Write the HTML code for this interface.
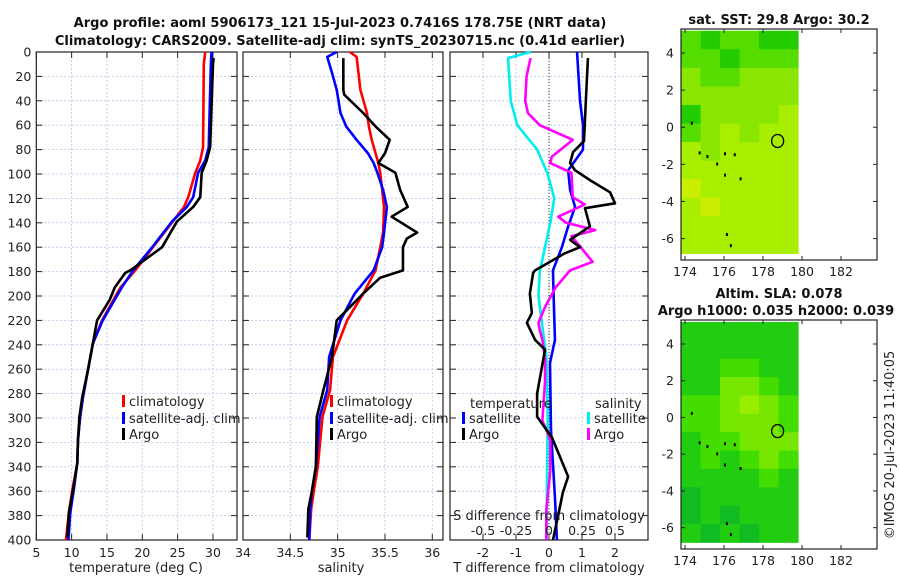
<!DOCTYPE html>
<html><head><meta charset="utf-8"><style>
body{margin:0;background:#fff;}
svg{display:block;font-family:"DejaVu Sans","Liberation Sans",sans-serif;}
</style></head><body>
<svg id="c" width="900" height="580" viewBox="0 0 900 580" xmlns="http://www.w3.org/2000/svg">
<text x="340" y="27" font-size="13" font-weight="bold" text-anchor="middle" fill="#111">Argo profile: aoml 5906173_121 15-Jul-2023 0.7416S 178.75E (NRT data)</text>
<text x="340" y="45" font-size="13" font-weight="bold" text-anchor="middle" fill="#111">Climatology: CARS2009. Satellite-adj clim: synTS_20230715.nc (0.41d earlier)</text>
<g id="g"></g>
</svg>
<script>
// depths (m) and values
const depths = [0,20,40,60,80,100,120,140,160,180,200,220,240,260,280,300,320,340,360,380,400];
const tTicks = [5,10,15,20,25,30];
const sTicks = [34,34.5,35,35.5,36];
const dTicks = [-2,-1,0,1,2];
const sdTicks = [-0.5,-0.25,0,0.25,0.5];

const tClimD = [0,10,78,89,99,119,127,139,160,179,193,220,239,261,283,299,318,337,359,378,400];
const tClimV = [28.9,28.7,28.6,28.2,27.5,26.5,25.9,24.3,21.5,19.0,16.9,14.3,13.0,12.3,11.6,11.2,10.9,10.8,10.1,9.6,9.2];
const tSatD = [0,10,78,89,99,119,127,139,160,179,193,220,239,261,283,299,318,337,359,378,400];
const tSatV = [29.8,29.7,29.4,28.9,27.9,27.2,26.3,24.2,21.4,18.7,17.1,14.4,13.0,12.3,11.6,11.2,10.9,10.8,10.3,9.8,9.55];
const tArgoD = [5,10,78,89,99,119,127,139,160,179,181,193,203,220,239,261,283,299,318,337,359,378,398];
const tArgoV = [30.1,30.0,29.6,29.1,28.4,28.2,27.2,24.9,22.8,18.3,17.6,16.1,15.4,13.6,13.0,12.3,11.5,11.1,10.9,10.8,10.2,9.6,9.4];

const sClimD = [0,4,17,31,50,61,72,91,99,113,127,148,160,179,198,220,250,277,299,340,359,375,400];
const sClimV = [35.13,35.2,35.22,35.24,35.31,35.33,35.36,35.43,35.45,35.47,35.49,35.48,35.45,35.40,35.27,35.10,34.95,34.92,34.84,34.79,34.75,34.72,34.70];
const sSatD = [0,4,17,31,50,61,72,83,91,99,113,127,148,160,179,198,220,250,277,299,340,359,375,400];
const sSatV = [34.99,34.89,34.94,34.99,35.03,35.09,35.2,35.32,35.38,35.42,35.48,35.52,35.49,35.47,35.38,35.18,35.03,34.91,34.89,34.81,34.77,34.73,34.71,34.70];
const sArgoD = [5,31,35,50,61,72,83,91,99,113,127,135,148,153,160,179,185,198,220,250,277,299,340,359,375,398];
const sArgoV = [35.06,35.06,35.07,35.27,35.40,35.55,35.50,35.43,35.61,35.66,35.74,35.57,35.84,35.73,35.69,35.69,35.45,35.27,34.99,34.94,34.85,34.78,34.77,34.73,34.69,34.68];

const dTArgoD = [5,38,73,82,91,97,105,115,124,128,143,154,160,165,179,181,198,214,222,236,244,280,299,316,348,361,373,400];
const dTArgoV = [1.18,1.12,1.06,0.73,0.64,0.79,1.24,1.85,2.0,1.09,1.24,0.64,0.94,0.48,-0.42,-0.48,-0.58,-0.52,-0.67,-0.42,-0.12,-0.36,-0.36,0.09,0.58,0.42,0.33,0.12];
const dTSatD = [0,40,60,80,97,113,127,143,160,179,209,236,255,310,365,400];
const dTSatV = [0.85,0.94,1.03,1.03,0.58,0.64,0.79,0.58,0.39,0.12,0.15,0.18,0.03,0.06,0.18,0.24];
const dSSatD = [0,5,40,60,80,100,120,140,160,180,200,250,300,400];
const dSSatV = [-0.14,-0.31,-0.29,-0.24,-0.09,-0.01,0.04,0.01,-0.03,-0.07,-0.08,-0.02,-0.01,-0.02];
const dSArgoD = [5,20,40,50,60,72,86,91,99,119,125,135,140,146,151,160,172,179,193,209,222,228,236,252,270,302,318,343,375,400];
const dSArgoV = [-0.14,-0.17,-0.18,-0.16,-0.07,0.18,0.02,0.01,0.17,0.18,0.27,0.07,0.13,0.35,0.17,0.24,0.33,0.16,0.05,-0.03,-0.08,-0.07,-0.05,-0.03,-0.03,-0.05,0.01,0.01,-0.02,-0.02];

// map grids (1-degree cells, lat 5..-7 rows, lon 174..180 cols)
const sstGrid = [
 [1,0,1,1,0,0],[1,1,0,1,1,1],[2,1,1,2,2,2],[2,2,2,2,2,2],[0,2,2,2,2,3],[1,2,3,2,3,3],
 [3,2,3,3,3,3],[3,3,3,3,3,3],[4,3,3,3,3,3],[3,4,3,3,3,3],[3,3,3,3,3,3],[3,3,3,3,3,3]];
const slaGrid = [
 [1,1,1,1,1,1],[1,1,1,1,1,1],[1,1,2,2,1,1],[1,1,3,3,2,1],[2,2,3,4,3,2],[2,2,3,3,3,2],
 [1,2,2,3,3,3],[1,2,1,2,3,2],[1,1,1,1,2,1],[0,1,1,1,1,1],[0,1,0,1,1,1],[1,0,1,0,1,1]];
const lonTicks = [174,176,178,180,182];
const latTicks = [4,2,0,-2,-4,-6];
const argoLon = 178.75, argoLat = -0.74;

const NS="http://www.w3.org/2000/svg";
const G=document.getElementById('g');
function el(t,a,p){const e=document.createElementNS(NS,t);for(const k in a)e.setAttribute(k,a[k]);(p||G).appendChild(e);return e;}
function txt(x,y,s,fs,anchor,p){const e=el('text',{x:x,y:y,'font-size':fs,'text-anchor':anchor||'middle',fill:'#222'},p);e.textContent=s;return e;}

const Y0=52,Y1=540;
const yD=d=>Y0+(d/400)*(Y1-Y0);

function panel(name,x0,x1,xmin,xmax,ticks,tickFmt,showY){
  const xs=v=>x0+(v-xmin)/(xmax-xmin)*(x1-x0);
  const g=el('g',{});
  
  
  ticks.forEach(t=>{const X=xs(t);
    const l=el('line',{x1:X,x2:X,y1:Y0,y2:Y1,stroke:'#b8c4ee','stroke-dasharray':'2,2','stroke-width':0.8},g);
    
    el('line',{x1:X,x2:X,y1:Y0,y2:Y0+6,stroke:'#222'},g);el('line',{x1:X,x2:X,y1:Y1,y2:Y1-6,stroke:'#222'},g);
    const tl=txt(X,557,tickFmt(t),12.5,'middle',g);
    
  });
  depths.forEach(d=>{const Y=yD(d);
    if(d>0&&d<400){const l=el('line',{x1:x0,x2:x1,y1:Y,y2:Y,stroke:'#b8c4ee','stroke-dasharray':'2,2','stroke-width':0.8},g);
      }
    el('line',{x1:x0,x2:x0+6,y1:Y,y2:Y,stroke:'#222'},g);el('line',{x1:x1,x2:x1-6,y1:Y,y2:Y,stroke:'#222'},g);
    if(showY){const tl=txt(x0-5,Y+4.5,String(d),12.5,'end',g);}
  });
  const r=el('rect',{x:x0,y:Y0,width:x1-x0,height:Y1-Y0,fill:'none',stroke:'#222','stroke-width':1.2},g);
  
  return {xs,g};
}
function line(p,D,V,color,name,scale){
  const pts=D.map((d,i)=>p.xs(V[i]*(scale||1))+','+yD(d)).join(' ');
  const e=el('polyline',{points:pts,fill:'none',stroke:color,'stroke-width':2.6,'stroke-linejoin':'round'},p.g);
  
  
}
function legendItem(x,y,color,label,p){
  const b=el('rect',{x:x,y:y-6,width:3,height:12,fill:color},p.g);
  
  const t=txt(x+7,y+5,label,13,'start',p.g);
  
}

// panel 1 temperature
const p1=panel('temperature-panel',36.3,237,5,33.4,tTicks,String,true);
line(p1,tClimD,tClimV,'#ff0000','climatology-temperature-line');
line(p1,tSatD,tSatV,'#0000ff','satellite-temperature-line');
line(p1,tArgoD,tArgoV,'#000000','argo-temperature-line');
legendItem(122,401,'#ff0000','climatology',p1);legendItem(122,418,'#0000ff','satellite-adj. clim',p1);legendItem(122,434,'#000000','Argo',p1);
let t=txt(136,572,'temperature (deg C)',13,'middle',p1.g);

// panel 2 salinity
const p2=panel('salinity-panel',243,443,34,36.113,sTicks,String,false);
line(p2,sClimD,sClimV,'#ff0000','climatology-salinity-line');
line(p2,sSatD,sSatV,'#0000ff','satellite-salinity-line');
line(p2,sArgoD,sArgoV,'#000000','argo-salinity-line');
legendItem(330,401,'#ff0000','climatology',p2);legendItem(330,418,'#0000ff','satellite-adj. clim',p2);legendItem(330,434,'#000000','Argo',p2);
t=txt(341,572,'salinity',13,'middle',p2.g);

// panel 3 differences
const p3=panel('difference-panel',450,648,-3,3,dTicks,String,false);
const zl=el('line',{x1:p3.xs(0),x2:p3.xs(0),y1:Y0,y2:Y1,stroke:'#333','stroke-dasharray':'1,2','stroke-width':1},p3.g);

line(p3,dSSatD,dSSatV,'#00eeee','satellite-salinity-diff-line',4);
line(p3,dTSatD,dTSatV,'#0000ff','satellite-temperature-diff-line');
line(p3,dSArgoD,dSArgoV,'#ff00ff','argo-salinity-diff-line',4);
line(p3,dTArgoD,dTArgoV,'#000000','argo-temperature-diff-line');
t=txt(470,408,'temperature',13,'start',p3.g);
t=txt(595,408,'salinity',13,'start',p3.g);
legendItem(462,418,'#0000ff','satellite',p3);legendItem(462,434,'#000000','Argo',p3);
legendItem(587,418,'#00eeee','satellite',p3);legendItem(587,434,'#ff00ff','Argo',p3);
t=txt(549,520,'S difference from climatology',13,'middle',p3.g);
sdTicks.forEach(s=>{const tl=txt(p3.xs(s*4),535,String(s),12.5,'middle',p3.g);});
t=txt(549,572,'T difference from climatology',13,'middle',p3.g);

// maps
function map(name,y0,y1,grid,colors,title1,title2){
  const x0=681,x1=877;
  const lx=v=>685+(v-174)*19.5;
  const ly=v=>(y0+24)+(4-v)*((y1-y0-38)/10.4);
  const g=el('g',{});
  
  grid.forEach((row,r)=>row.forEach((v,c)=>{
    const cx0=Math.max(x0,lx(173.8+c)), cx1=Math.min(lx(180),lx(174.8+c));
    const cy0=Math.max(y0,ly(5.2-r)), cy1=Math.min(y1,ly(4.2-r));
    if(cx1<=cx0) return;
    const cell=el('rect',{x:cx0,y:cy0,width:cx1-cx0+0.5,height:cy1-cy0+0.5,fill:colors[v]},g);
    
  }));
  [[174.3,0.3],[174.7,-1.3],[175.1,-1.5],[175.6,-1.9],[176,-1.35],[176.5,-1.4],[176.8,-2.7],[176,-2.5],[176.1,-5.7],[176.3,-6.3]].forEach(p=>{
    const i=el('rect',{x:lx(p[0]),y:ly(p[1]),width:2,height:3,fill:'#000'},g);
    });
  const c=el('ellipse',{cx:lx(argoLon),cy:ly(argoLat),rx:6,ry:6.5,fill:'none',stroke:'#000','stroke-width':1.3},g);
  
  el('rect',{x:x0,y:y0,width:x1-x0,height:y1-y0,fill:'none',stroke:'#222','stroke-width':1.2},g);
  lonTicks.forEach(v=>{const X=lx(v);el('line',{x1:X,x2:X,y1:y1,y2:y1-4,stroke:'#222'},g);el('line',{x1:X,x2:X,y1:y0,y2:y0+4,stroke:'#222'},g);
    const tl=txt(X,y1+16,String(v),12.5,'middle',g);});
  latTicks.forEach(v=>{const Y=ly(v);el('line',{x1:x0,x2:x0+4,y1:Y,y2:Y,stroke:'#222'},g);el('line',{x1:x1,x2:x1-4,y1:Y,y2:Y,stroke:'#222'},g);
    const tl=txt(674,Y+4.5,String(v),12.5,'end',g);});
  let a=txt(779,y0-(title2?22:5),title1,13,'middle',g);a.setAttribute('font-weight','bold');a.setAttribute('fill','#111');
  if(title2){a=txt(776,y0-5,title2,13,'middle',g);a.setAttribute('font-weight','bold');a.setAttribute('fill','#111');}
}
map('sst-map',29,260,sstGrid,['#22cc00','#55dd00','#88e600','#a8ee00','#ccee00'],'sat. SST: 29.8 Argo: 30.2',null);
map('sla-map',320,549,slaGrid,['#11bb22','#22cc11','#44dd00','#77e600','#99ee00'],'Altim. SLA: 0.078','Argo h1000: 0.035 h2000: 0.039');
const cp=el('text',{x:0,y:0,'font-size':13,'text-anchor':'middle',fill:'#222',transform:'translate(894,445) rotate(-90)'});
cp.textContent='©IMOS 20-Jul-2023 11:40:05';


</script>
</body></html>
